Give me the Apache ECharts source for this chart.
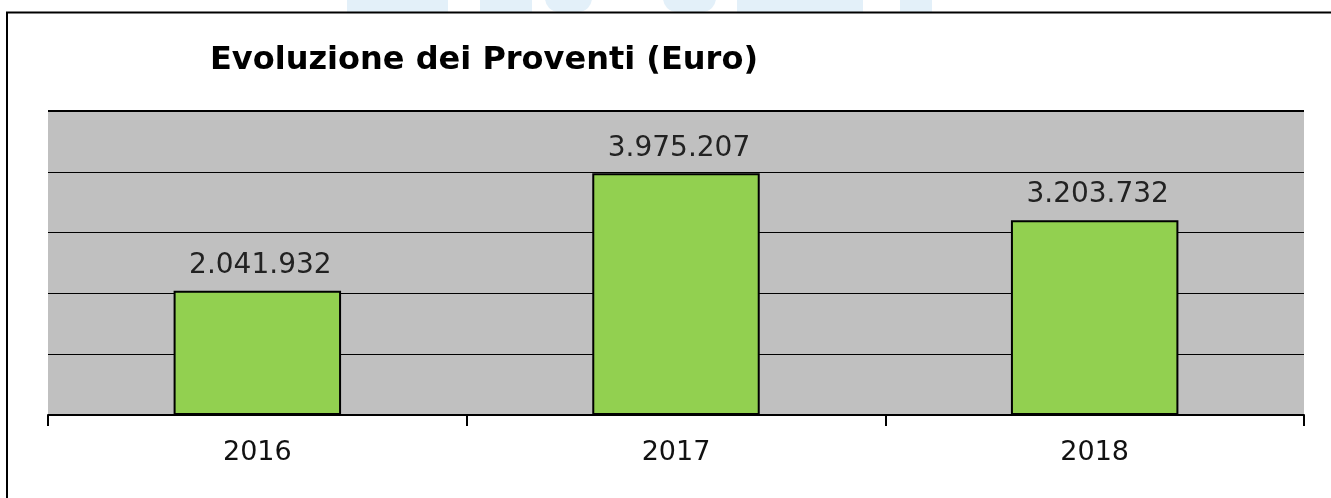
<!DOCTYPE html>
<html>
<head>
<meta charset="utf-8">
<script src="https://cdn.jsdelivr.net/npm/echarts@6/dist/echarts.min.js"></script>
<style>
html,body{margin:0;padding:0;background:#fff;}
#chart{width:1331px;height:498px;}
</style>
</head>
<body>
<div id="chart"></div>
<script>
const titleText = 'Evoluzione dei Proventi (Euro)';
const categories = ['2016', '2017', '2018'];
const values = [2041932, 3975207, 3203732];
const yMin = 0, yMax = 5000000, yInterval = 1000000;

function fmt(v) {
  return String(v).replace(/\B(?=(\d{3})+(?!\d))/g, '.');
}

const chart = echarts.init(document.getElementById('chart'), null, {renderer: 'canvas'});
const font = '"DejaVu Sans", Verdana, sans-serif';
const wm = '#e3f0f9';
chart.setOption({
  animation: false,
  backgroundColor: '#ffffff',
  graphic: [
    {type: 'rect', z: -10, shape: {x: 347, y: -10, width: 101, height: 22}, style: {fill: wm}},
    {type: 'rect', z: -10, shape: {x: 480, y: -10, width: 52, height: 22}, style: {fill: wm}},
    {type: 'rect', z: -10, shape: {x: 545, y: -10, width: 47, height: 22, r: [0, 0, 14, 14]}, style: {fill: wm}},
    {type: 'rect', z: -10, shape: {x: 663, y: -10, width: 53, height: 22, r: [0, 0, 14, 14]}, style: {fill: wm}},
    {type: 'rect', z: -10, shape: {x: 737, y: -10, width: 126, height: 22}, style: {fill: wm}},
    {type: 'rect', z: -10, shape: {x: 900, y: -10, width: 32, height: 22}, style: {fill: wm}},
    {type: 'rect', z: -5, shape: {x: 7, y: 12.5, width: 1400, height: 600}, style: {fill: null, stroke: '#000', lineWidth: 2}}
  ],
  title: {
    text: titleText,
    left: 205,
    top: 40,
    textStyle: {fontFamily: font, fontWeight: 'bold', fontSize: 32, color: '#000'}
  },
  grid: {
    left: 48, right: 27, top: 111, bottom: 83,
    show: true, backgroundColor: '#c0c0c0', borderWidth: 0
  },
  xAxis: {
    type: 'category',
    data: categories,
    boundaryGap: true,
    axisLine: {show: true, lineStyle: {color: '#000', width: 2}},
    axisTick: {show: true, length: 11, lineStyle: {color: '#000', width: 2}},
    axisLabel: {fontFamily: font, fontSize: 27, color: '#111', margin: 24},
    splitLine: {show: false}
  },
  yAxis: {
    type: 'value',
    min: yMin, max: yMax, interval: yInterval,
    axisLine: {show: false},
    axisTick: {show: false},
    axisLabel: {show: false},
    splitLine: {show: true, lineStyle: {color: '#000', width: 1}}
  },
  series: [{
    type: 'bar',
    data: values,
    barWidth: '40%',
    itemStyle: {color: '#92d050', borderColor: '#000', borderWidth: 2},
    label: {
      show: true, position: 'top', distance: 11, offset: [3, 0],
      fontFamily: font, fontSize: 28, color: '#222',
      formatter: p => fmt(p.value)
    },
    markLine: {
      silent: true, symbol: 'none', label: {show: false},
      lineStyle: {color: '#000', width: 2, type: 'solid'},
      data: [{yAxis: yMax}]
    }
  }]
});
</script>
</body>
</html>
